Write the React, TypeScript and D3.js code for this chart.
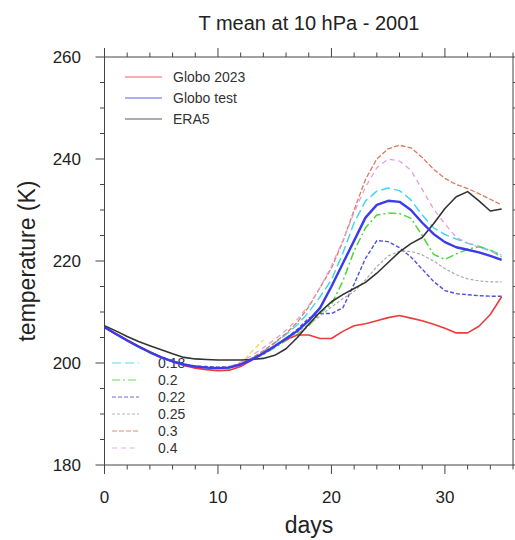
import React from "react";
import * as d3 from "d3";

// days 0..35
const days = [
  0, 1, 2, 3, 4, 5, 6, 7, 8, 9, 10, 11, 12, 13, 14, 15, 16, 17, 18, 19, 20,
  21, 22, 23, 24, 25, 26, 27, 28, 29, 30, 31, 32, 33, 34, 35,
];

const globo2023 = [
  207.0, 205.8, 204.5, 203.3, 202.2, 201.2, 200.3, 199.5, 199.0, 198.7, 198.5,
  198.6, 199.3, 200.6, 202.0, 203.4, 204.6, 205.5, 205.5, 204.8, 204.8, 206.2,
  207.3, 207.7, 208.3, 208.9, 209.3, 208.8, 208.3, 207.6, 206.8, 205.9, 205.9,
  207.2, 209.5, 213.0,
];
const globoTest = [
  207.0, 205.7, 204.4, 203.2, 202.1, 201.1, 200.3, 199.7, 199.3, 199.1, 199.0,
  199.1, 199.7, 200.7, 201.9, 203.3, 204.8, 206.3, 208.3, 210.8, 215.0, 219.5,
  224.0, 228.5, 231.0, 231.8, 231.6, 230.0, 227.5, 225.3, 223.7, 222.7, 222.2,
  221.7, 221.0, 220.2,
];
const era5 = [
  207.3, 206.3, 205.2, 204.2, 203.4, 202.6, 201.8, 201.1, 200.8, 200.7, 200.6,
  200.6, 200.6, 200.7, 200.9, 201.5, 202.8, 205.0, 207.6, 210.0, 212.0, 213.4,
  214.6, 215.8, 217.6, 219.7, 221.8, 223.4, 224.6, 227.3, 230.3, 232.6, 233.6,
  231.8, 229.8, 230.2,
];
const run018 = [
  207.0, 205.7, 204.4, 203.2, 202.1, 201.1, 200.3, 199.7, 199.3, 199.1, 199.0,
  199.1, 199.8, 200.9, 202.3, 203.9, 205.6, 207.5, 210.0, 213.0, 216.3, 221.5,
  227.5, 231.8, 233.7, 234.3, 233.8, 232.0, 229.0, 226.5, 225.2, 224.3, 223.5,
  222.9, 222.1, 221.2,
];
const run020 = [
  207.0, 205.7, 204.4, 203.2, 202.1, 201.1, 200.3, 199.7, 199.3, 199.1, 199.0,
  199.1, 199.7, 200.6, 201.7, 203.0, 204.4, 205.6, 207.3, 209.8, 211.5, 216.0,
  222.0, 226.5, 229.0, 229.4, 229.3, 228.4, 225.0, 221.3, 220.3, 221.4, 222.3,
  222.8, 222.1, 220.8,
];
const run022 = [
  207.0, 205.7, 204.4, 203.2, 202.1, 201.2, 200.4, 199.8, 199.4, 199.3, 199.2,
  199.3, 199.8, 200.7, 201.8, 203.2, 204.8, 206.6, 208.8, 209.7, 209.7, 210.8,
  215.5, 220.5, 224.0, 223.8, 222.6, 220.8, 218.4, 216.0, 214.2, 213.6, 213.4,
  213.2, 213.1, 213.1,
];
const run025 = [
  207.0, 205.7, 204.4, 203.2, 202.1, 201.1, 200.3, 199.7, 199.3, 199.1, 199.0,
  199.1, 199.7, 200.7, 201.9, 203.2, 204.6, 206.0, 207.6, 209.2, 211.0, 212.6,
  214.0, 216.3, 218.9, 221.0, 221.9, 221.9, 221.2, 220.0, 218.5, 217.3, 216.5,
  216.1, 215.9, 215.9,
];
const run030 = [
  207.0, 205.7, 204.4, 203.2, 202.1, 201.1, 200.3, 199.7, 199.3, 199.1, 199.0,
  199.2, 199.9, 201.0, 202.4, 204.0, 205.8, 208.0, 211.0, 214.8, 218.6, 223.8,
  230.0, 236.0, 240.0, 242.0, 242.7, 242.2, 240.3, 238.0, 236.2, 235.0, 234.2,
  233.2, 232.1, 231.0,
];
const run040 = [
  207.0, 205.7, 204.4, 203.2, 202.1, 201.1, 200.3, 199.7, 199.3, 199.1, 199.0,
  199.3, 200.2, 201.5, 203.0, 204.6, 206.4, 208.6, 211.3, 214.8, 219.0, 224.0,
  229.5, 234.5, 238.3, 240.0, 239.6, 237.8, 234.0, 230.2, 227.3, 224.6, 223.5,
  222.7, 221.9, 221.2,
];
// short yellow dashed trace seen only up to day 14 (no legend entry)
const extraRun = [
  207.0, 205.6, 204.3, 203.1, 202.0, 201.0, 200.2, 199.6, 199.2, 199.0, 198.9,
  199.1, 199.8, 202.3, 204.5,
];

const xMajor = [0, 10, 20, 30];
const xMinor = [2, 4, 6, 8, 12, 14, 16, 18, 22, 24, 26, 28, 32, 34, 36];
const yMajor = [180, 200, 220, 240, 260];
const yMinor = [185, 190, 195, 205, 210, 215, 225, 230, 235, 245, 250, 255];

const FONT = "'Liberation Sans', Arial, Helvetica, sans-serif";

type Series = {
  name: string;
  values: number[];
  color: string;
  width: number;
  dash?: string;
};

const mainSeries: Series[] = [
  { name: "Globo 2023", values: globo2023, color: "#ee3a3a", width: 1.6 },
  { name: "Globo test", values: globoTest, color: "#3a3aee", width: 2.4 },
  { name: "ERA5", values: era5, color: "#333333", width: 1.6 },
];

const runSeries: Series[] = [
  { name: "0.18", values: run018, color: "#44d8ee", width: 1.5, dash: "9,4" },
  { name: "0.2", values: run020, color: "#4ad83a", width: 1.5, dash: "8,3,2,3" },
  { name: "0.22", values: run022, color: "#5050dd", width: 1.4, dash: "4,2" },
  { name: "0.25", values: run025, color: "#aaaaaa", width: 1.2, dash: "3,2" },
  { name: "0.3", values: run030, color: "#dd7a5a", width: 1.3, dash: "5,2" },
  { name: "0.4", values: run040, color: "#e0a0e0", width: 1.3, dash: "5,4" },
];

const extra: Series = {
  name: "",
  values: extraRun,
  color: "#eedd55",
  width: 1.3,
  dash: "5,3",
};

export default function App() {
  const W = 515;
  const H = 540;
  const x = d3.scaleLinear().domain([0, 36]).range([104.5, 513]);
  const y = d3.scaleLinear().domain([180, 260]).range([465, 57]);

  const line = (vals: number[]) =>
    d3
      .line<number>()
      .x((_, i) => x(days[i]))
      .y((d) => y(d))(vals) || "";

  const [x0, x1] = x.range();
  const [y0, y1] = y.range();
  const maj = 9;
  const min = 4.5;
  const axisColor = "#444";

  const drawOrder = [extra, ...runSeries, mainSeries[0], mainSeries[2], mainSeries[1]];

  return (
    <svg
      width={W}
      height={H}
      style={{ position: "absolute", left: 0, top: 0, background: "#fff" }}
      fontFamily={FONT}
    >
      <rect x={0} y={0} width={W} height={H} fill="#fff" />

      <text x={309} y={30} textAnchor="middle" fontSize={20} fill="#222">
        T mean at 10 hPa - 2001
      </text>

      {/* legends drawn under the curves */}
      <g>
        {mainSeries.map((s, i) => (
          <g key={s.name}>
            <line
              x1={125}
              x2={162}
              y1={77 + i * 21}
              y2={77 + i * 21}
              stroke={s.color}
              strokeWidth={1.2}
              opacity={0.8}
            />
            <text
              x={173}
              y={77 + i * 21}
              dy="0.35em"
              fontSize={14}
              fill="#333"
            >
              {s.name}
            </text>
          </g>
        ))}
        {runSeries.map((s, i) => (
          <g key={s.name}>
            <line
              x1={112}
              x2={139}
              y1={363 + i * 17}
              y2={363 + i * 17}
              stroke={s.color}
              strokeWidth={1.1}
              strokeDasharray={s.dash}
              opacity={0.85}
            />
            <text
              x={158}
              y={363 + i * 17}
              dy="0.35em"
              fontSize={14}
              fill="#333"
            >
              {s.name}
            </text>
          </g>
        ))}
      </g>

      {drawOrder.map((s, i) => (
        <path
          key={i}
          d={line(s.values)}
          fill="none"
          stroke={s.color}
          strokeWidth={s.width}
          strokeDasharray={s.dash}
          strokeLinejoin="round"
        />
      ))}

      {/* frame */}
      <rect
        x={x0}
        y={y1}
        width={x1 - x0}
        height={y0 - y1}
        fill="none"
        stroke={axisColor}
        strokeWidth={1}
      />

      {/* x ticks, outward on bottom and top */}
      {xMajor.concat(xMinor).map((t) => {
        const len = xMajor.includes(t) ? maj : min;
        return (
          <g key={"x" + t} stroke={axisColor} strokeWidth={1}>
            <line x1={x(t)} x2={x(t)} y1={y0} y2={y0 + len} />
            <line x1={x(t)} x2={x(t)} y1={y1} y2={y1 - len} />
          </g>
        );
      })}
      {/* y ticks, outward on left and right */}
      {yMajor.concat(yMinor).map((t) => {
        const len = yMajor.includes(t) ? maj : min;
        return (
          <g key={"y" + t} stroke={axisColor} strokeWidth={1}>
            <line x1={x0} x2={x0 - len} y1={y(t)} y2={y(t)} />
            <line x1={x1} x2={x1 + len} y1={y(t)} y2={y(t)} />
          </g>
        );
      })}

      {xMajor.map((t) => (
        <text
          key={"xl" + t}
          x={x(t)}
          y={503}
          textAnchor="middle"
          fontSize={17}
          fill="#222"
        >
          {t}
        </text>
      ))}
      {yMajor.map((t) => (
        <text
          key={"yl" + t}
          x={81}
          y={y(t)}
          dy="0.35em"
          textAnchor="end"
          fontSize={17}
          fill="#222"
        >
          {t}
        </text>
      ))}

      <text x={309} y={533} textAnchor="middle" fontSize={23} fill="#222">
        days
      </text>
      <text
        transform="translate(35,261) rotate(-90)"
        textAnchor="middle"
        fontSize={23}
        fill="#222"
      >
        temperature (K)
      </text>
    </svg>
  );
}
